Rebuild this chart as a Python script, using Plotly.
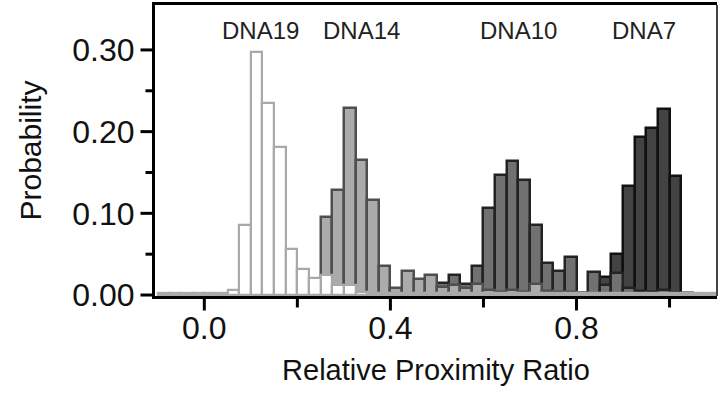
import plotly.graph_objects as go

# ---- data: bin left edges (width 0.025) and probabilities ----
bin_width = 0.025

dna19_bins = [-0.1, -0.075, -0.05, -0.025, 0.0, 0.025, 0.05, 0.075, 0.1, 0.125, 0.15, 0.175,
              0.2, 0.225, 0.25, 0.275, 0.3, 0.325, 0.35, 0.375, 0.4, 0.425, 0.45, 0.475,
              0.5, 0.525, 0.55, 0.575, 0.6, 0.625, 0.65, 0.675, 0.7, 0.725, 0.75, 0.775,
              0.8, 0.825, 0.85, 0.875, 0.9, 0.925, 0.95, 0.975, 1.0, 1.025, 1.05, 1.075]
dna19_prob = [0.002, 0.002, 0.002, 0.002, 0.002, 0.003, 0.006, 0.086, 0.298, 0.235, 0.181, 0.056,
              0.032, 0.021, 0.024, 0.012, 0.012, 0.004, 0.003, 0.003, 0.003, 0.003, 0.003, 0.003,
              0.003, 0.003, 0.003, 0.003, 0.003, 0.003, 0.003, 0.003, 0.003, 0.003, 0.003, 0.003,
              0.003, 0.003, 0.003, 0.003, 0.003, 0.003, 0.003, 0.003, 0.003, 0.003, 0.003, 0.003]

dna14_bins = [0.2, 0.225, 0.25, 0.275, 0.3, 0.325, 0.35, 0.375, 0.4, 0.425, 0.45, 0.475,
              0.5, 0.525, 0.55, 0.575, 0.6, 0.625, 0.65, 0.675, 0.7, 0.725, 0.75, 0.775, 0.8]
dna14_prob = [0.004, 0.008, 0.096, 0.128, 0.229, 0.165, 0.116, 0.036, 0.009, 0.030, 0.020, 0.024,
              0.010, 0.012, 0.008, 0.013, 0.006, 0.004, 0.006, 0.004, 0.013, 0.005, 0.004, 0.004, 0.003]

dna10_bins = [0.45, 0.475, 0.5, 0.525, 0.55, 0.575, 0.6, 0.625, 0.65, 0.675, 0.7, 0.725,
              0.75, 0.775, 0.8, 0.825, 0.85, 0.875, 0.9, 0.925, 0.95, 0.975, 1.0]
dna10_prob = [0.003, 0.005, 0.015, 0.025, 0.013, 0.036, 0.107, 0.147, 0.164, 0.141, 0.086, 0.039,
              0.029, 0.046, 0.003, 0.0285, 0.012, 0.027, 0.008, 0.005, 0.004, 0.006, 0.003]

dna7_bins = [0.825, 0.85, 0.875, 0.9, 0.925, 0.95, 0.975, 1.0, 1.025]
dna7_prob = [0.003, 0.022, 0.050, 0.133, 0.194, 0.205, 0.228, 0.146, 0.002]

labels = ["DNA19", "DNA14", "DNA10", "DNA7"]
label_x = [0.121, 0.338, 0.675, 0.945]

x_major = [0.0, 0.4, 0.8]
x_major_text = ["0.0", "0.4", "0.8"]
x_minor = [0.2, 0.6, 1.0]
y_major = [0.0, 0.1, 0.2, 0.3]
y_major_text = ["0.00", "0.10", "0.20", "0.30"]
y_minor = [0.05, 0.15, 0.25]

X_RANGE = [-0.106, 1.102]
Y_RANGE = [-0.0012, 0.355]

W, H = 719, 400
M = dict(l=155, r=2, t=5, b=104)
PLOT_W = W - M["l"] - M["r"]
PLOT_H = H - M["t"] - M["b"]

FONT = "Liberation Sans, Arial, sans-serif"

fig = go.Figure()

series = [
    (dna7_bins, dna7_prob, "#434343", "#111111", 2.5),
    (dna10_bins, dna10_prob, "#717171", "#232323", 2.5),
    (dna14_bins, dna14_prob, "#ababab", "#4e4e4e", 2.5),
    (dna19_bins, dna19_prob, "#ffffff", "#a9a9a9", 2.2),
]
for bins, prob, fill, edge, lw in series:
    fig.add_trace(go.Bar(
        x=bins, y=prob, width=bin_width, offset=0,
        marker=dict(color=fill, line=dict(color=edge, width=lw)),
        showlegend=False, hoverinfo="skip",
    ))

for name, lx in zip(labels, label_x):
    fig.add_annotation(x=lx, y=0.914, xref="x", yref="paper", text=name,
                       showarrow=False, font=dict(family=FONT, size=24, color="#222222"),
                       xanchor="center", yanchor="middle")


# tick marks (outside) as paper-referenced lines located at the axis values
def to_paper(v, rng):
    return (v - rng[0]) / (rng[1] - rng[0])


def x_tick(v, length):
    px = to_paper(v, X_RANGE)
    fig.add_shape(type="line", xref="paper", yref="paper", x0=px, x1=px,
                  y0=-1.0 / PLOT_H, y1=-(length + 1.5) / PLOT_H,
                  line=dict(color="black", width=3), layer="above")


def y_tick(v, length):
    py = to_paper(v, Y_RANGE)
    fig.add_shape(type="line", xref="paper", yref="paper", y0=py, y1=py,
                  x0=-1.0 / PLOT_W, x1=-(length + 1.5) / PLOT_W,
                  line=dict(color="black", width=3), layer="above")


for v in x_major:
    x_tick(v, 13)
for v in x_minor:
    x_tick(v, 10)
for v in y_major:
    y_tick(v, 13)
for v in y_minor:
    y_tick(v, 8)

# right border (thinner)
fig.add_shape(type="line", xref="paper", yref="paper", x0=1, x1=1, y0=0, y1=1,
              line=dict(color="#444444", width=2))

fig.update_layout(
    width=W, height=H,
    margin=M,
    paper_bgcolor="white", plot_bgcolor="white",
    barmode="overlay", bargap=0,
    font=dict(family=FONT, color="#111111"),
    xaxis=dict(
        range=X_RANGE, showgrid=False, zeroline=False,
        showline=True, linecolor="black", linewidth=3, mirror=True,
        tickmode="array", tickvals=x_major, ticktext=x_major_text,
        ticks="", ticklabelstandoff=2,
        tickfont=dict(family=FONT, size=32, color="#111111"),
        title=dict(text="Relative Proximity Ratio", font=dict(family=FONT, size=29, color="#111111"),
                   standoff=15),
    ),
    yaxis=dict(
        range=Y_RANGE, showgrid=False, zeroline=False,
        showline=True, linecolor="black", linewidth=3,
        tickmode="array", tickvals=y_major, ticktext=y_major_text,
        ticks="", ticklabelstandoff=11,
        tickfont=dict(family=FONT, size=32, color="#111111"),
        title=dict(text="Probability", font=dict(family=FONT, size=30, color="#111111"),
                   standoff=22),
    ),
)

fig.write_html("out.html")
